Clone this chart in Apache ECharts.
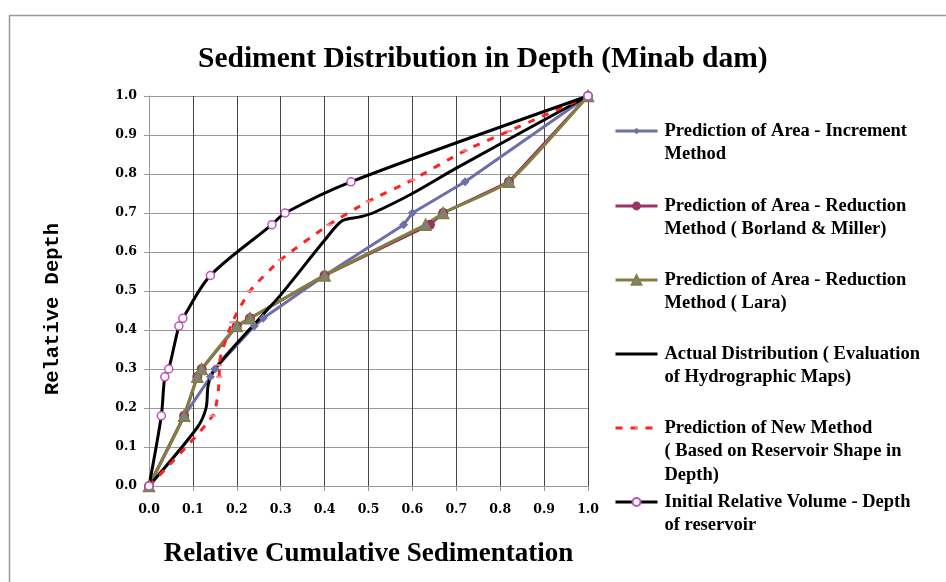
<!DOCTYPE html>
<html>
<head>
<meta charset="utf-8">
<script src="https://cdn.jsdelivr.net/npm/echarts@6.0.0/dist/echarts.min.js"></script>
<style>
html,body{margin:0;padding:0;background:#fff;}
#chart{width:946px;height:582px;}
</style>
</head>
<body>
<div id="chart"></div>
<script>
// ---- data ----
var tickLabels = ['0.0','0.1','0.2','0.3','0.4','0.5','0.6','0.7','0.8','0.9','1.0'];

var incrementX = [0, 0.08, 0.14, 0.15, 0.24, 0.26, 0.40, 0.58, 0.60, 0.72, 1.0];
var incrementY = [0, 0.18, 0.28, 0.30, 0.41, 0.43, 0.54, 0.67, 0.70, 0.78, 1.0];

var borlandX = [0, 0.08, 0.11, 0.12, 0.20, 0.23, 0.40, 0.64, 0.67, 0.82, 1.0];
var borlandY = [0, 0.18, 0.28, 0.30, 0.41, 0.43, 0.54, 0.67, 0.70, 0.78, 1.0];

var laraX = [0, 0.08, 0.11, 0.12, 0.20, 0.23, 0.40, 0.63, 0.67, 0.82, 1.0];
var laraY = [0, 0.18, 0.28, 0.30, 0.41, 0.43, 0.54, 0.67, 0.70, 0.78, 1.0];

var actualX = [0, 0.11, 0.13, 0.135, 0.15, 0.26, 0.30, 0.40, 0.44, 0.48, 0.51, 0.60, 0.70, 1.0];
var actualY = [0, 0.15, 0.20, 0.26, 0.30, 0.44, 0.49, 0.63, 0.68, 0.69, 0.70, 0.75, 0.815, 1.0];

var newMethodX = [0, 0.145, 0.16, 0.16, 0.19, 0.23, 0.30, 0.41, 0.50, 0.60, 0.72, 0.82, 1.0];
var newMethodY = [0, 0.18, 0.28, 0.31, 0.42, 0.50, 0.58, 0.67, 0.73, 0.785, 0.86, 0.91, 1.0];

var initialX = [0, 0.028, 0.036, 0.045, 0.068, 0.077, 0.14, 0.28, 0.31, 0.46, 1.0];
var initialY = [0, 0.18, 0.28, 0.30, 0.41, 0.43, 0.54, 0.67, 0.70, 0.78, 1.0];

var seriesNames = [
  'Prediction of Area - Increment Method',
  'Prediction of Area - Reduction Method ( Borland & Miller)',
  'Prediction of Area - Reduction Method ( Lara)',
  'Actual Distribution ( Evaluation of Hydrographic Maps)',
  'Prediction of New Method ( Based on Reservoir Shape in Depth)',
  'Initial Relative Volume - Depth of reservoir'
];
var legendLines = [
  ['Prediction of Area - Increment', 'Method'],
  ['Prediction of Area - Reduction', 'Method ( Borland & Miller)'],
  ['Prediction of Area - Reduction', 'Method ( Lara)'],
  ['Actual Distribution ( Evaluation', 'of Hydrographic Maps)'],
  ['Prediction of New Method', '( Based on Reservoir Shape in', 'Depth)'],
  ['Initial Relative Volume - Depth', 'of reservoir']
];

function zip(xs, ys) { return xs.map(function (x, i) { return [x, ys[i]]; }); }

// ---- chart ----
var chart = echarts.init(document.getElementById('chart'), null, {renderer: 'canvas'});
var serif = 'Liberation Serif';
var tickFont = 'DejaVu Serif';
var LH = 23.5;
var legendFirstLine = [131, 206, 280, 354, 428, 502];
var legendMarkH = [8, 11, 12, 10, 3, 10];
var legendMarkOpacity = [1, 1, 1, 0, 1, 1];

var legends = seriesNames.map(function (name, i) {
  var lines = legendLines[i];
  var blanks = lines.length - 1;
  var pre = '';
  for (var k = 0; k < blanks; k++) pre += ' \n';
  return {
    data: [name],
    orient: 'vertical',
    left: 614,
    top: legendFirstLine[i] - (blanks + 0.5) * LH,
    padding: 0,
    itemWidth: 42,
    itemHeight: legendMarkH[i],
    selectedMode: false,
    lineStyle: {width: 3},
    itemStyle: {opacity: legendMarkOpacity[i]},
    formatter: function () { return pre + lines.join('\n'); },
    textStyle: {fontFamily: serif, fontWeight: 'bold', fontSize: 18.5, lineHeight: LH, color: '#000', padding: [0, 0, 0, 2]}
  };
});

var axisCommon = {
  type: 'value', min: 0, max: 1, interval: 0.1,
  axisLine: {show: true, onZero: false, lineStyle: {color: '#999', width: 1}},
  axisTick: {show: true, length: 5, lineStyle: {color: '#999'}},
  axisLabel: {
    fontFamily: tickFont, fontWeight: 'bold', fontSize: 12.5, color: '#000',
    formatter: function (v) { return tickLabels[Math.round(v * 10)]; }
  }
};

var option = {
  backgroundColor: '#fff',
  animation: false,
  graphic: [{
    type: 'rect', left: 7, top: 13, z: -10,
    shape: {width: 2000, height: 2000},
    style: {fill: 'none', stroke: '#999', lineWidth: 1.5}
  }],
  title: {
    text: 'Sediment Distribution in Depth (Minab dam)',
    left: 198, top: 44, padding: 0,
    textStyle: {fontFamily: serif, fontWeight: 'bold', fontSize: 29.5, color: '#000'}
  },
  legend: legends,
  grid: {left: 149, right: 358, top: 96, bottom: 96, containLabel: false},
  xAxis: Object.assign({}, axisCommon, {
    name: 'Relative Cumulative Sedimentation',
    nameLocation: 'middle', nameGap: 55,
    nameTextStyle: {fontFamily: serif, fontWeight: 'bold', fontSize: 27, color: '#000'},
    axisLabel: Object.assign({}, axisCommon.axisLabel, {margin: 17}),
    splitLine: {show: true, lineStyle: {color: '#444', width: 1}}
  }),
  yAxis: Object.assign({}, axisCommon, {
    name: 'Relative Depth',
    nameLocation: 'middle', nameGap: 86, nameRotate: 90,
    nameTextStyle: {fontFamily: 'Liberation Mono', fontWeight: 'bold', fontSize: 20.5, color: '#000', padding: [0, 36, 0, 0]},
    axisLabel: Object.assign({}, axisCommon.axisLabel, {margin: 12}),
    splitLine: {show: true, lineStyle: {color: '#999', width: 1}}
  }),
  series: [
    {
      name: seriesNames[0], type: 'line', data: zip(incrementX, incrementY),
      symbol: 'diamond', symbolSize: 9, showSymbol: true,
      lineStyle: {color: '#6e6eaa', width: 3},
      itemStyle: {color: '#6e6eaa'}
    },
    {
      name: seriesNames[1], type: 'line', data: zip(borlandX, borlandY),
      symbol: 'circle', symbolSize: 10,
      lineStyle: {color: '#993366', width: 3},
      itemStyle: {color: '#993366'}
    },
    {
      name: seriesNames[2], type: 'line', data: zip(laraX, laraY), smooth: 0.15,
      symbol: 'triangle', symbolSize: 11,
      lineStyle: {color: '#808040', width: 3},
      itemStyle: {color: '#808080', borderColor: '#808040', borderWidth: 1.5}
    },
    {
      name: seriesNames[3], type: 'line', data: zip(actualX, actualY), smooth: 0.3,
      symbol: 'none',
      lineStyle: {color: '#000', width: 3},
      itemStyle: {color: '#993366'}
    },
    {
      name: seriesNames[4], type: 'line', data: zip(newMethodX, newMethodY), smooth: 0.2,
      symbol: 'rect', symbolSize: [6, 2],
      lineStyle: {color: '#ff2222', width: 3, type: [7, 8]},
      itemStyle: {color: '#ff8080'}
    },
    {
      name: seriesNames[5], type: 'line', data: zip(initialX, initialY), smooth: 0.3,
      symbol: 'circle', symbolSize: 8,
      lineStyle: {color: '#000', width: 3},
      itemStyle: {color: '#fff', borderColor: '#c050c0', borderWidth: 1.5}
    }
  ]
};
chart.setOption(option);
</script>
</body>
</html>
